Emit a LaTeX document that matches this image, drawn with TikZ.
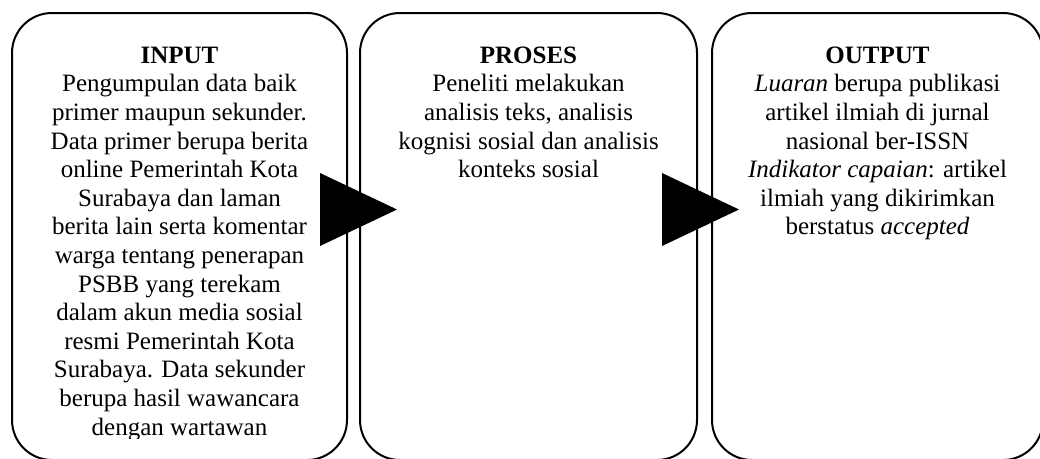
\documentclass[tikz,border=0pt]{standalone}
\usepackage{fontspec}
\setmainfont{Liberation Serif}
\begin{document}
\begin{tikzpicture}[x=1pt,y=-1pt,
  box/.style={draw=black,line width=2pt,rounded corners=40pt,inner sep=0pt,
    minimum height=447pt},
  txt/.style={anchor=north,inner sep=0pt,align=center,
    font=\fontsize{25}{28.6}\selectfont},
  tri/.style={fill=black}]
\useasboundingbox (0,0) rectangle (1040,458);
\clip (0,0) rectangle (1040,458);
% boxes
\node[box,minimum width=335pt] (in)  at (179.5,236.5) {};
\node[box,minimum width=337pt] (pr)  at (528.5,236.5) {};
\node[box,minimum width=331pt] (out) at (877.5,236.5) {};
% arrows (filled triangles)
\fill[tri] (320,173) -- (397,209.5) -- (320,246) -- cycle;
\fill[tri] (662,173) -- (739,209.5) -- (662,246) -- cycle;
% texts
\begin{scope}
\clip (20,20) rectangle (340,438);
\node[txt] (tin) at (179.5,43) {\rule{0pt}{20pt}\textbf{INPUT}\\
Pengumpulan data baik\\
primer maupun sekunder.\\
Data primer berupa berita\\
online Pemerintah Kota\\
Surabaya dan laman\\
berita lain serta komentar\\
warga tentang penerapan\\
PSBB yang terekam\\
dalam akun media sosial\\
resmi Pemerintah Kota\\
Surabaya. Data sekunder\\
berupa hasil wawancara\\
dengan wartawan};
\end{scope}
\node[txt] (tpr) at (528.5,43) {\rule{0pt}{20pt}\textbf{PROSES}\\
Peneliti melakukan\\
analisis teks, analisis\\
kognisi sosial dan analisis\\
konteks sosial};
\node[txt] (tout) at (877.5,43) {\rule{0pt}{20pt}\textbf{OUTPUT}\\
\textit{Luaran} berupa publikasi\\
artikel ilmiah di jurnal\\
nasional ber-ISSN\\
\textit{Indikator capaian}: artikel\\
ilmiah yang dikirimkan\\
berstatus \textit{accepted}};
\end{tikzpicture}
\end{document}
